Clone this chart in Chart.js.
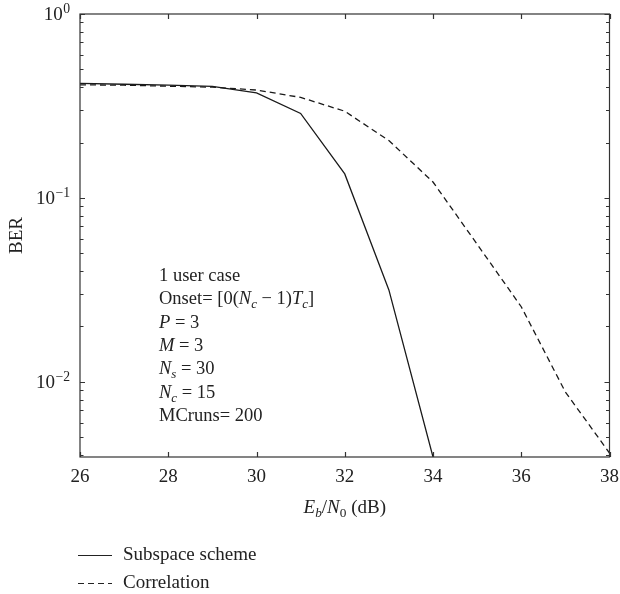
<!DOCTYPE html>
<html>
<head>
<meta charset="utf-8">
<script src="https://cdn.jsdelivr.net/npm/chart.js@4/dist/chart.umd.min.js"></script>
<style>
  html, body { margin: 0; padding: 0; background: #fff; }
  #wrap { width: 620px; height: 594px; position: relative; }
</style>
</head>
<body>
<div id="wrap"><canvas id="c" width="620" height="594"></canvas></div>
<script>
// ---- Data ----
const subspaceX   = [26, 27, 28, 29, 30, 31, 32, 33, 34];
const subspaceBER = [0.42, 0.415, 0.41, 0.404, 0.372, 0.288, 0.135, 0.0316, 0.0039];
const correlationX   = [26, 27, 28, 29, 30, 31, 32, 33, 34, 35, 36, 37, 38];
const correlationBER = [0.412, 0.41, 0.405, 0.40, 0.386, 0.352, 0.296, 0.205, 0.122, 0.056, 0.0256, 0.0088, 0.0041];
const seriesNames = ['Subspace scheme', 'Correlation'];
const xTickValues = [26, 28, 30, 32, 34, 36, 38];
const yDecades = [0, -1, -2];
const annotationLines = [
  [{t: '1 user case'}],
  [{t: 'Onset= [0('}, {t: 'N', i: 1}, {t: 'c', i: 1, sub: 1}, {t: ' \u2212 1)'}, {t: 'T', i: 1}, {t: 'c', i: 1, sub: 1}, {t: ']'}],
  [{t: 'P', i: 1}, {t: ' = 3'}],
  [{t: 'M', i: 1}, {t: ' = 3'}],
  [{t: 'N', i: 1}, {t: 's', i: 1, sub: 1}, {t: ' = 30'}],
  [{t: 'N', i: 1}, {t: 'c', i: 1, sub: 1}, {t: ' = 15'}],
  [{t: 'MCruns= 200'}]
];
const xTitle = [{t: 'E', i: 1}, {t: 'b', i: 1, sub: 1}, {t: '/'}, {t: 'N', i: 1}, {t: '0', sub: 1}, {t: ' (dB)'}];

const FONT = '"Liberation Serif", "DejaVu Serif", serif';
const INK = '#222';
const Y_MIN = 0.0039, Y_MAX = 1;

function richWidth(ctx, segs, size) {
  let w = 0;
  for (const s of segs) {
    const fs = s.sub ? size * 0.7 : size;
    ctx.font = (s.i ? 'italic ' : '') + fs + 'px ' + FONT;
    w += ctx.measureText(s.t).width;
  }
  return w;
}
function drawRich(ctx, x, y, segs, size) {
  ctx.textBaseline = 'alphabetic';
  ctx.textAlign = 'left';
  for (const s of segs) {
    const fs = s.sub ? size * 0.7 : size;
    ctx.font = (s.i ? 'italic ' : '') + fs + 'px ' + FONT;
    ctx.fillText(s.t, x, y + (s.sub ? size * 0.22 : 0));
    x += ctx.measureText(s.t).width;
  }
}

const decor = {
  id: 'decor',
  afterDraw(chart) {
    const ctx = chart.ctx;
    const a = chart.chartArea;
    const xs = chart.scales.x, ys = chart.scales.y;
    ctx.save();
    ctx.strokeStyle = '#333';
    ctx.fillStyle = INK;
    ctx.lineWidth = 1.2;
    // frame
    ctx.strokeRect(a.left, a.top, a.right - a.left, a.bottom - a.top);
    // x ticks (inward, top and bottom)
    ctx.beginPath();
    for (const v of xTickValues) {
      const px = Math.round(xs.getPixelForValue(v)) + 0.5;
      ctx.moveTo(px, a.bottom); ctx.lineTo(px, a.bottom - 5);
      ctx.moveTo(px, a.top); ctx.lineTo(px, a.top + 5);
    }
    // y ticks (log, inward, left and right)
    for (let e = -3; e <= 0; e++) {
      for (let k = 1; k <= 9; k++) {
        const v = k * Math.pow(10, e);
        if (v < Y_MIN || v > Y_MAX) continue;
        const py = Math.round(ys.getPixelForValue(v)) + 0.5;
        const len = k === 1 ? 5 : 3.5;
        ctx.moveTo(a.left, py); ctx.lineTo(a.left + len, py);
        ctx.moveTo(a.right, py); ctx.lineTo(a.right - len, py);
      }
    }
    ctx.stroke();
    // y tick labels with superscript exponents
    const size = 19;
    for (const d of yDecades) {
      const py = ys.getPixelForValue(Math.pow(10, d));
      const exp = d === 0 ? '0' : '\u2212' + (-d);
      ctx.font = (size * 0.72) + 'px ' + FONT;
      const ew = ctx.measureText(exp).width;
      const xEnd = a.left - 10;
      ctx.textBaseline = 'alphabetic';
      ctx.textAlign = 'left';
      ctx.fillText(exp, xEnd - ew, py - 1);
      ctx.font = size + 'px ' + FONT;
      ctx.textAlign = 'right';
      ctx.fillText('10', xEnd - ew - 0.5, py + 6);
    }
    // x axis title
    const tw = richWidth(ctx, xTitle, 19);
    drawRich(ctx, (a.left + a.right) / 2 - tw / 2, a.bottom + 56, xTitle, 19);
    // annotation block
    annotationLines.forEach((segs, i) => {
      drawRich(ctx, a.left + 79, 281 + i * 23.3, segs, 18.5);
    });
    // legend
    const legY = [555, 583];
    ctx.strokeStyle = INK;
    ctx.lineWidth = 1.2;
    legY.forEach((ly, i) => {
      ctx.beginPath();
      ctx.setLineDash(i === 0 ? [] : [6, 4]);
      ctx.moveTo(78, ly + 0.5); ctx.lineTo(112, ly + 0.5);
      ctx.stroke();
      ctx.setLineDash([]);
      ctx.font = '19px ' + FONT;
      ctx.textAlign = 'left';
      ctx.textBaseline = 'middle';
      ctx.fillText(seriesNames[i], 123, ly);
    });
    ctx.restore();
  }
};

new Chart(document.getElementById('c'), {
  type: 'line',
  data: {
    datasets: [
      {
        label: seriesNames[0],
        data: subspaceX.map((x, i) => ({x, y: subspaceBER[i]})),
        borderColor: '#1a1a1a', borderWidth: 1.3, pointRadius: 0, tension: 0, fill: false
      },
      {
        label: seriesNames[1],
        data: correlationX.map((x, i) => ({x, y: correlationBER[i]})),
        borderColor: '#1a1a1a', borderWidth: 1.3, borderDash: [6, 4], pointRadius: 0, tension: 0, fill: false
      }
    ]
  },
  options: {
    responsive: false,
    animation: false,
    layout: { padding: { left: 0, top: 14, right: 5, bottom: 0 } },
    plugins: { legend: { display: false }, tooltip: { enabled: false } },
    scales: {
      x: {
        type: 'linear', min: 26, max: 38,
        grid: { display: false }, border: { display: false },
        ticks: { stepSize: 2, color: INK, font: { family: FONT, size: 19 }, padding: 1 },
        afterFit(s) { s.height = 137; }
      },
      y: {
        type: 'logarithmic', min: Y_MIN, max: Y_MAX,
        grid: { display: false }, border: { display: false },
        ticks: { display: false },
        title: { display: true, text: 'BER', color: INK, font: { family: FONT, size: 19 }, padding: { top: 6, bottom: 0 } },
        afterFit(s) { s.width = 80; }
      }
    }
  },
  plugins: [decor]
});
</script>
</body>
</html>
